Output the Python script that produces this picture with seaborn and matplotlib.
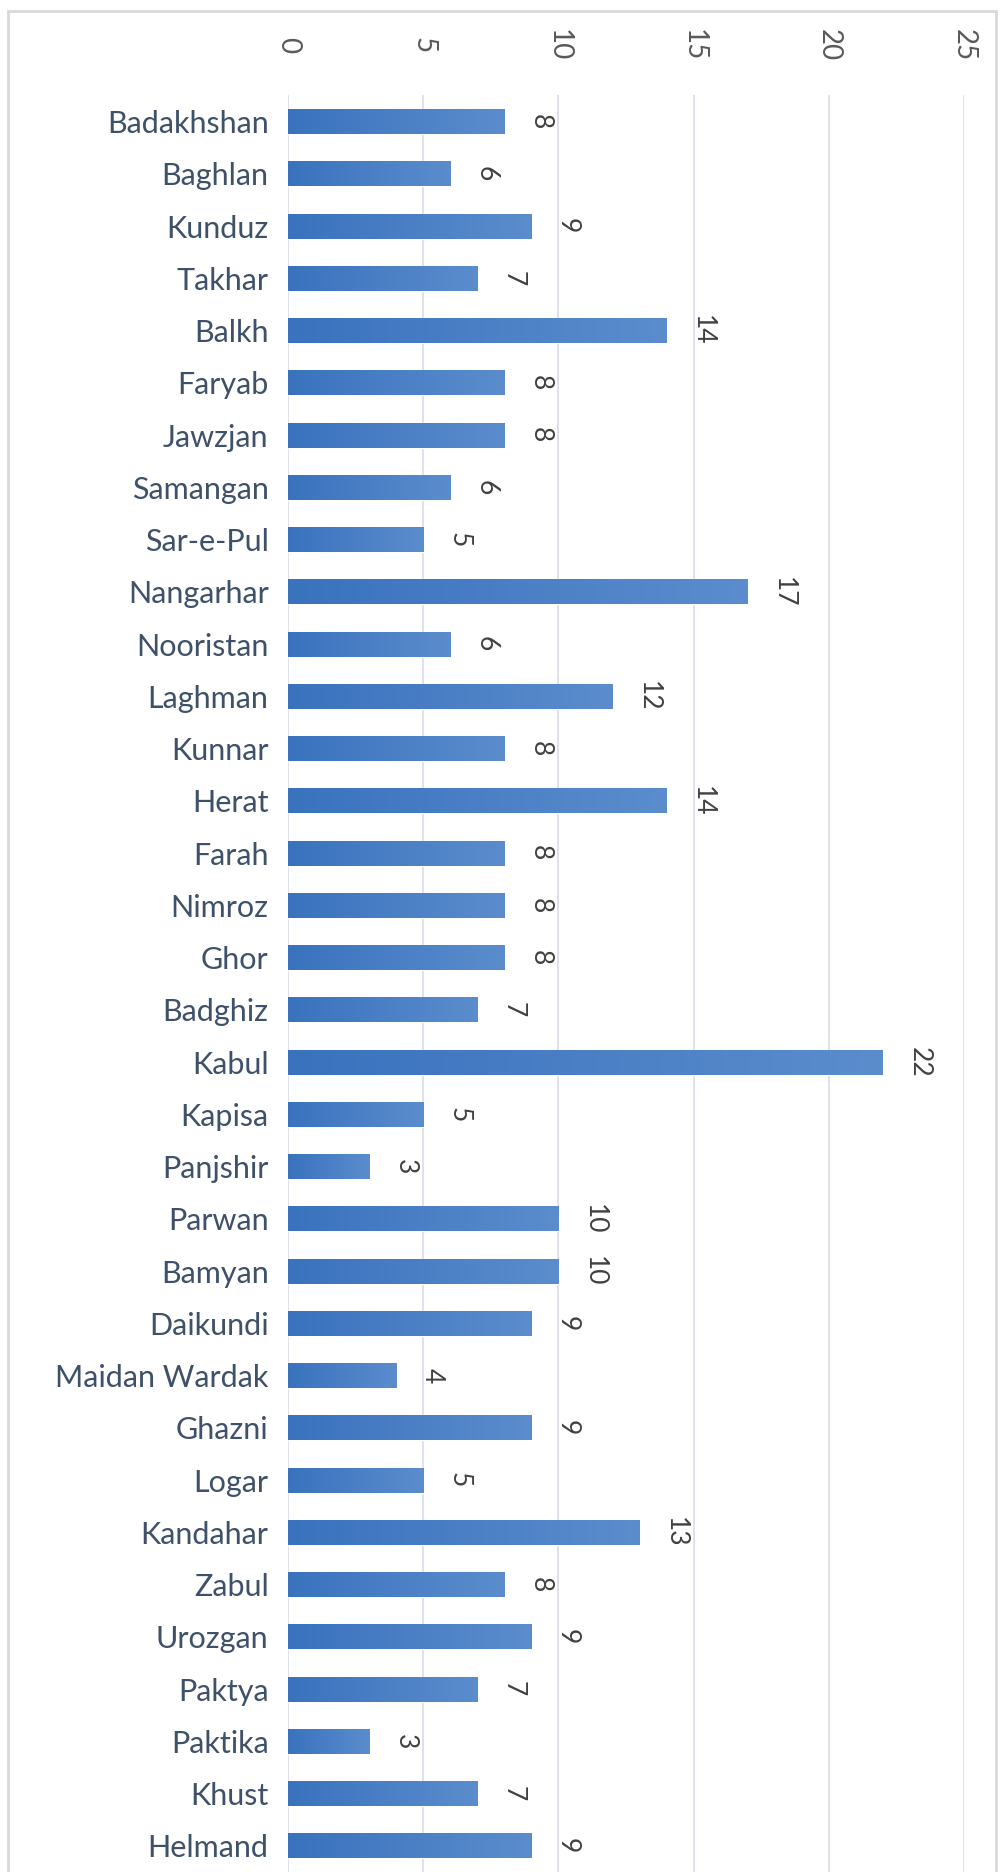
import numpy as np
import matplotlib
matplotlib.use("Agg")
import matplotlib.pyplot as plt
import seaborn as sns
from matplotlib.patches import Rectangle

provinces = ["Badakhshan", "Baghlan", "Kunduz", "Takhar", "Balkh", "Faryab", "Jawzjan",
             "Samangan", "Sar-e-Pul", "Nangarhar", "Nooristan", "Laghman", "Kunnar", "Herat",
             "Farah", "Nimroz", "Ghor", "Badghiz", "Kabul", "Kapisa", "Panjshir", "Parwan",
             "Bamyan", "Daikundi", "Maidan Wardak", "Ghazni", "Logar", "Kandahar", "Zabul",
             "Urozgan", "Paktya", "Paktika", "Khust", "Helmand"]
counts = [8, 6, 9, 7, 14, 8, 8, 6, 5, 17, 6, 12, 8, 14, 8, 8, 8, 7, 22, 5, 3, 10, 10, 9,
          4, 9, 5, 13, 8, 9, 7, 3, 7, 9]
x_ticks = [0, 5, 10, 15, 20, 25]

sns.set_style("white")
plt.rcParams["font.family"] = ["Lato", "DejaVu Sans"]

fig = plt.figure(figsize=(10, 18.72), dpi=100)
ax = fig.add_axes([0.288, 0.0, 0.676, 0.949])

sns.barplot(x=counts, y=provinces, orient="h", color="#4479c4", saturation=1,
            width=0.48, ax=ax)

# gradient fill on each bar (darker left, lighter right)
cmap = matplotlib.colors.LinearSegmentedColormap.from_list("g", ["#3a72be", "#5b8dcd"])
grad = np.linspace(0, 1, 256).reshape(1, -1)
for p in ax.patches:
    x0, y0 = p.get_x(), p.get_y()
    w, h = p.get_width(), p.get_height()
    im = ax.imshow(grad, cmap=cmap, aspect="auto", extent=[x0, x0 + w, y0 + h, y0],
                   zorder=3)
    im.set_clip_path(p)

ax.set_xlim(0, 25)
ax.set_ylim(len(provinces) - 0.5, -0.5)
ax.set_xticks(x_ticks)
ax.xaxis.tick_top()
ax.grid(axis="x", color="#d6dce8", linewidth=1.2)
ax.grid(axis="y", visible=False)
ax.set_axisbelow(True)
for s in ax.spines.values():
    s.set_visible(False)

ax.tick_params(axis="x", length=0, pad=36, labelsize=20, labelcolor="#595959")
for t in ax.get_xticklabels():
    t.set_rotation(-90)
    t.set_va("center")
    t.set_ha("center")
ax.tick_params(axis="y", length=0, pad=14, labelsize=22, labelcolor="#3f5069")
ax.set_xlabel("")
ax.set_ylabel("")

for i, v in enumerate(counts):
    ax.annotate(str(v), xy=(v, i), xytext=(26, 0), textcoords="offset points",
                ha="center", va="center", rotation=-90, fontsize=19, color="#404040")

# outer chart border
fig.patches.append(Rectangle((0.008, -0.01), 0.988, 1.004, transform=fig.transFigure,
                             fill=False, edgecolor="#d9d9d9", linewidth=2))

fig.savefig("out.png", dpi=100)
